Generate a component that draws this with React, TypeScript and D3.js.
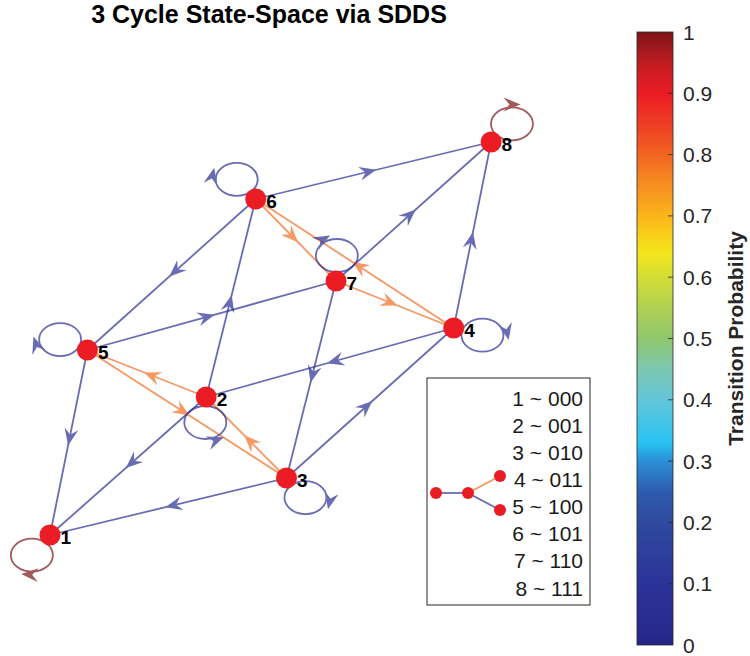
import React from 'react';
import * as d3 from 'd3';

// ---------- data ----------
const nodeIds = [1, 2, 3, 4, 5, 6, 7, 8];
const nodeX = [-2.0, -0.58, 0.15, 1.67, -1.66, -0.13, 0.6, 2.01];
const nodeY = [-1.95, -0.57, -1.38, 0.12, -0.1, 1.41, 0.59, 1.98];
const stateCodes = ['000', '001', '010', '011', '100', '101', '110', '111'];

const edgeSource = [6, 6, 2, 5, 7, 4, 7, 4, 3, 2, 3, 5, 2, 5, 3, 6, 7, 4];
const edgeTarget = [8, 5, 6, 7, 8, 8, 3, 2, 4, 1, 1, 1, 5, 3, 2, 7, 4, 6];
const edgeProb = [0.07, 0.07, 0.07, 0.07, 0.07, 0.07, 0.07, 0.07, 0.07, 0.07, 0.07, 0.07, 0.79, 0.79, 0.79, 0.79, 0.79, 0.79];

const loopNode = [1, 2, 3, 4, 5, 6, 7, 8];
const loopProb = [1, 0.07, 0.07, 0.07, 0.07, 0.07, 0.07, 1];
const loopDir = [132, 92, 46, 14, 201, 226, 272, 319];
const loopArrowAngle = [95, 65, 10, 350, 165, 190, 235, 270];
const loopArrowSense = [1, -1, 1, 1, 1, 1, 1, 1];

const cbTicks = [0, 0.1, 0.2, 0.3, 0.4, 0.5, 0.6, 0.7, 0.8, 0.9, 1];
const cmapStops = [0, 0.1, 0.2, 0.25, 0.3, 0.33, 0.4, 0.45, 0.5, 0.55, 0.6, 0.64, 0.7, 0.75, 0.8, 0.85, 0.9, 0.95, 1];
const cmapColors = ['#26268a', '#2b3398', '#2f4a9f', '#2e5cae', '#2b8fd6', '#28c3f2', '#62c6da', '#7cc7b0', '#90c76e', '#afd052', '#d3de35', '#f4e61b', '#fbb51a', '#f68e20', '#f26522', '#ee3e24', '#ec1c24', '#c01d22', '#7b1518'];

const legendNodes = [
  [0, 0],
  [1, 0],
  [2, -0.55],
  [2, 0.55],
];
const legendEdges = [
  [0, 1, 0.07],
  [1, 2, 0.79],
  [1, 3, 0.07],
];

// ---------- layout ----------
const W = 750;
const H = 656;
const FONT = '"Liberation Sans", Arial, Helvetica, sans-serif';

const xs = d3.scaleLinear().domain([-2, 2]).range([50, 490]);
const ys = d3.scaleLinear().domain([-2, 2]).range([540, 140]);
const cmap = d3.scaleLinear<string>().domain(cmapStops).range(cmapColors).interpolate(d3.interpolateRgb);
const cbY = d3.scaleLinear().domain([0, 1]).range([645, 32]);

const NODE_R = 10.5;
const RX = 21;
const RY = 16.5;
const EDGE_OP = 0.7;
const AL = 17; // arrow length
const AW = 7; // arrow half width
const AN = 11; // notch

function arrowPts(tx: number, ty: number, ang: number): string {
  const c = Math.cos(ang), s = Math.sin(ang);
  const pts: [number, number][] = [
    [0, 0],
    [-AL, AW],
    [-AN, 0],
    [-AL, -AW],
  ];
  return pts.map(([a, b]) => `${tx + a * c - b * s},${ty + a * s + b * c}`).join(' ');
}

function posOf(id: number): [number, number] {
  const i = nodeIds.indexOf(id);
  return [xs(nodeX[i]), ys(nodeY[i])];
}

export default function App() {
  const gradStops = d3.range(0, 1.0001, 0.01);

  const edges = edgeSource.map((s, i) => {
    const [x1, y1] = posOf(s);
    const [x2, y2] = posOf(edgeTarget[i]);
    const ang = Math.atan2(y2 - y1, x2 - x1);
    const mx = (x1 + x2) / 2 + Math.cos(ang) * 3;
    const my = (y1 + y2) / 2 + Math.sin(ang) * 3;
    const col = cmap(edgeProb[i]);
    return (
      <g key={'e' + i} opacity={EDGE_OP}>
        <line x1={x1} y1={y1} x2={x2} y2={y2} stroke={col} strokeWidth={1.8} />
        <polygon points={arrowPts(mx, my, ang)} fill={col} />
      </g>
    );
  });

  const loops = loopNode.map((n, i) => {
    const [nx, ny] = posOf(n);
    const phi = (loopDir[i] * Math.PI) / 180;
    const cp = Math.cos(phi), sp = Math.sin(phi);
    const r = 1 / Math.sqrt((cp * cp) / (RX * RX) + (sp * sp) / (RY * RY));
    const d = r + 9;
    const cx = nx + d * cp;
    const cy = ny + d * sp;
    const th = (loopArrowAngle[i] * Math.PI) / 180;
    const px = cx + RX * Math.cos(th) * 1.18;
    const py = cy + RY * Math.sin(th) * 1.18;
    const tx = loopArrowSense[i] * -RX * Math.sin(th);
    const ty = loopArrowSense[i] * RY * Math.cos(th);
    const ang = Math.atan2(ty, tx);
    const col = cmap(loopProb[i]);
    return (
      <g key={'l' + i} opacity={EDGE_OP}>
        <ellipse cx={cx} cy={cy} rx={RX} ry={RY} fill="none" stroke={col} strokeWidth={1.8} />
        <polygon points={arrowPts(px + Math.cos(ang) * AL * 0.5, py + Math.sin(ang) * AL * 0.5, ang)} fill={col} />
      </g>
    );
  });

  // legend geometry
  const legX = 427, legY = 378, legW = 163, legH = 227;
  const rowY = d3.scaleLinear().domain([0, 7]).range([398, 588]);
  const lgx = d3.scaleLinear().domain([0, 2]).range([436, 500]);
  const lgy = d3.scaleLinear().domain([-1, 1]).range([rowY(3.5) - 31, rowY(3.5) + 31]);

  return (
    <svg width={W} height={H} style={{ position: 'absolute', left: 0, top: 0, background: '#fff' }} fontFamily={FONT}>
      <defs>
        <linearGradient id="cbgrad" x1="0" y1="1" x2="0" y2="0">
          {gradStops.map((v) => (
            <stop key={v} offset={v} stopColor={cmap(v)} />
          ))}
        </linearGradient>
      </defs>
      <rect x={0} y={0} width={W} height={H} fill="#fff" />

      <text x={269} y={23} textAnchor="middle" fontSize={25} fontWeight="bold" fill="#000">
        3 Cycle State-Space via SDDS
      </text>

      {edges}
      {loops}

      {nodeIds.map((id, i) => (
        <g key={'n' + id}>
          <circle cx={xs(nodeX[i])} cy={ys(nodeY[i])} r={NODE_R} fill="#ec1c24" />
          <text x={xs(nodeX[i]) + 10.5} y={ys(nodeY[i]) + 9} fontSize={19} fontWeight="bold" fill="#000">
            {id}
          </text>
        </g>
      ))}

      {/* legend */}
      <rect x={legX} y={legY} width={legW} height={legH} fill="#fff" stroke="#262626" strokeWidth={1} />
      {legendEdges.map(([a, b, p], i) => (
        <line
          key={'le' + i}
          x1={lgx(legendNodes[a][0])}
          y1={lgy(legendNodes[a][1])}
          x2={lgx(legendNodes[b][0])}
          y2={lgy(legendNodes[b][1])}
          stroke={cmap(p)}
          strokeWidth={1.8}
          opacity={EDGE_OP}
        />
      ))}
      {legendNodes.map(([a, b], i) => (
        <circle key={'ln' + i} cx={lgx(a)} cy={lgy(b)} r={6} fill="#ec1c24" />
      ))}
      {nodeIds.map((id, i) => (
        <text key={'lt' + id} x={583} y={rowY(i) + 7.5} textAnchor="end" fontSize={21} fill="#1a1a1a">
          {`${id} ~ ${stateCodes[i]}`}
        </text>
      ))}

      {/* colorbar */}
      <rect x={637} y={cbY(1)} width={36} height={cbY(0) - cbY(1)} fill="url(#cbgrad)" stroke="#262626" strokeWidth={0.8} />
      {cbTicks.map((t) => (
        <g key={'t' + t}>
          {t > 0 && t < 1 ? <line x1={668} x2={673} y1={cbY(t)} y2={cbY(t)} stroke="#262626" strokeWidth={0.8} /> : null}
          <text x={683} y={cbY(t) + 7.5} fontSize={21} fill="#262626">
            {String(t)}
          </text>
        </g>
      ))}
      <text
        transform={`translate(743, ${(cbY(0) + cbY(1)) / 2}) rotate(-90)`}
        textAnchor="middle"
        fontSize={21}
        fontWeight="bold"
        fill="#262626"
      >
        Transition Probability
      </text>
    </svg>
  );
}
